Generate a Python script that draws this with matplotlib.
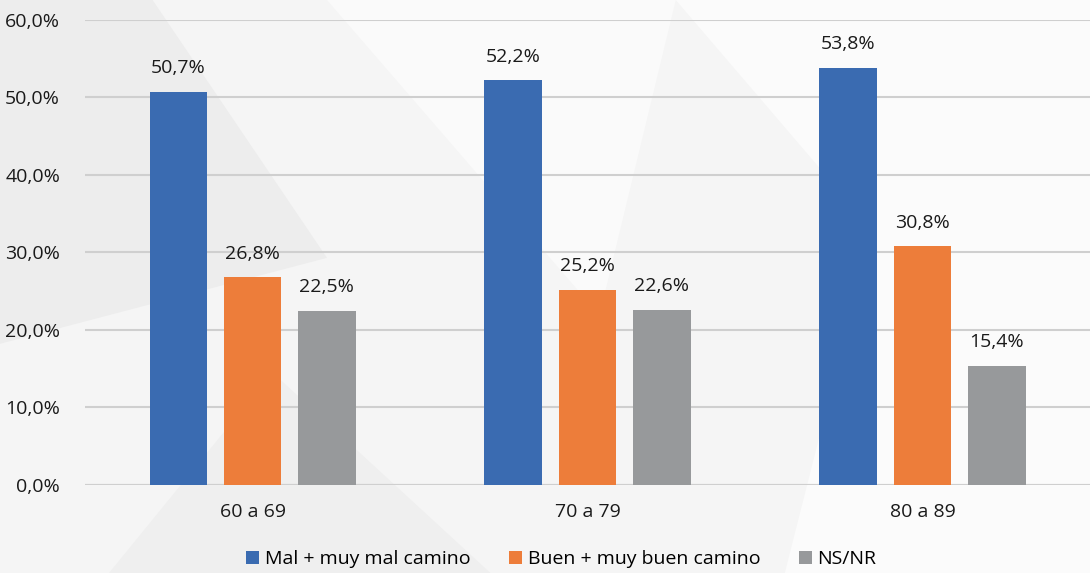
import matplotlib.pyplot as plt
import matplotlib.patches as mpatches
import numpy as np

categories = ['60 a 69', '70 a 79', '80 a 89']
series_names = ['Mal + muy mal camino', 'Buen + muy buen camino', 'NS/NR']
mal = [50.7, 52.2, 53.8]
buen = [26.8, 25.2, 30.8]
nsnr = [22.5, 22.6, 15.4]
colors = ['#3A6BB1', '#ED7D3A', '#97999B']
yticks = [0, 10, 20, 30, 40, 50, 60]

plt.rcParams['font.family'] = ['Open Sans', 'DejaVu Sans']
fs = 14

fig = plt.figure(figsize=(10.9, 5.73), dpi=100)
fig.patch.set_facecolor('#F5F5F5')

# faint background shapes (watermark-like)
bg = [
    [(0.0, 1.0), (0.14, 1.0), (0.30, 0.55), (0.0, 0.40)],
    [(0.30, 1.0), (0.62, 1.0), (0.55, 0.45)],
    [(0.62, 1.0), (1.0, 1.0), (1.0, 0.0), (0.72, 0.0), (0.80, 0.6)],
    [(0.10, 0.0), (0.45, 0.0), (0.25, 0.35)],
]
shades = ['#EDEDED', '#FAFAFA', '#FBFBFB', '#EFEFEF']
for poly, c in zip(bg, shades):
    fig.patches.append(mpatches.Polygon(poly, closed=True, transform=fig.transFigure,
                                        facecolor=c, edgecolor='none', zorder=-10))

ax = fig.add_axes([0.078, 0.1536, 0.922, 0.8115])
ax.set_facecolor('none')

x = np.arange(len(categories))
w = 0.173
step = 0.221
for i, (vals, name, c) in enumerate(zip([mal, buen, nsnr], series_names, colors)):
    bars = ax.bar(x + (i - 1) * step, vals, width=w, color=c, label=name, zorder=3)
    for b, v in zip(bars, vals):
        ax.text(b.get_x() + b.get_width() / 2, v + 1.9, f'{v:.1f}%'.replace('.', ','),
                ha='center', va='bottom', fontsize=fs, color='#1A1A1A')

ax.set_xlim(-0.5, 2.5)
ax.set_ylim(0, 60)
ax.set_yticks(yticks)
ax.set_yticklabels([f'{t:.1f}%'.replace('.', ',') for t in yticks], fontsize=fs, color='#1A1A1A')
ax.set_xticks(x)
ax.set_xticklabels(categories, fontsize=fs, color='#1A1A1A')
ax.tick_params(axis='both', length=0)
ax.tick_params(axis='y', pad=18)
ax.tick_params(axis='x', pad=13)
ax.yaxis.grid(True, color='#CFCFCF', linewidth=1.5, zorder=0)
for s in ax.spines.values():
    s.set_visible(False)
ax.axhline(0, color='#CFCFCF', linewidth=1.5, zorder=2)

fig.legend(loc='lower center', bbox_to_anchor=(0.515, -0.022), ncol=3, frameon=False,
           fontsize=fs, handlelength=0.65, handleheight=0.65, handletextpad=0.3,
           columnspacing=2.0)

fig.savefig('out.png', dpi=100, facecolor=fig.get_facecolor())
